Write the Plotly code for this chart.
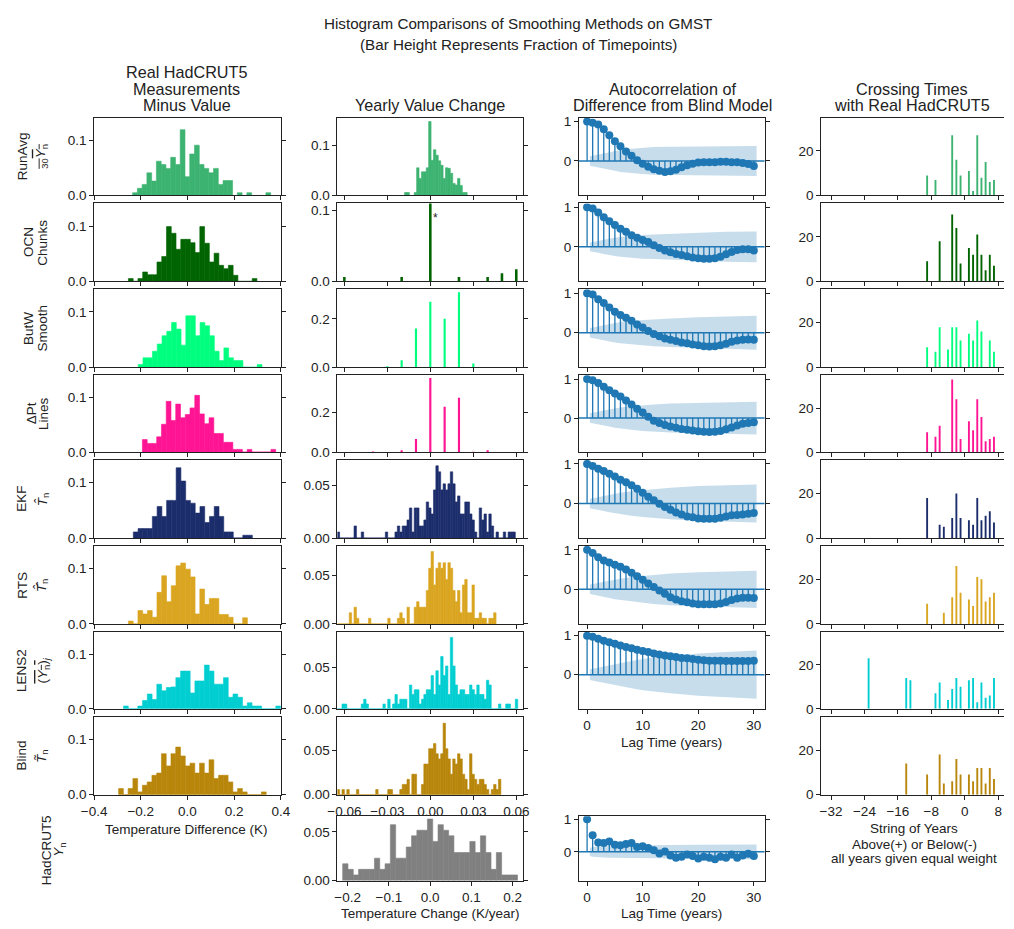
import plotly.graph_objects as go

W, H = 1014, 929
FONT = "Liberation Sans, Arial, sans-serif"
TXT = "#222222"
LINE = "#222222"
ACF_BLUE = "#1f77b4"

# ---------------- data ----------------
METHODS = ["RunAvg", "OCN", "ButW", "ΔPt", "EKF", "RTS", "LENS2", "Blind", "HadCRUT5"]
COLORS = ["#3cb371", "#006400", "#00ff7f", "#ff1493", "#1c2d6b", "#daa520", "#00ced1", "#b8860b", "#808080"]
ROW_SYMBOLS = [
    "<span style='text-decoration:overline'><sub>30</sub><i>Y</i><sub>n</sub></span>",
    "Chunks",
    "Smooth",
    "Lines",
    "<i>T̂</i><sub>n</sub>",
    "<i>T̂̂</i><sub>n</sub>",
    "<span style='text-decoration:overline'>(<i>Y</i><sub>n</sub>)</span><sub><i>j</i></sub>",
    "<i>T̃</i><sub>n</sub>",
    "<i>Y</i><sub>n</sub>",
]

# Column 1: Real HadCRUT5 minus value (fraction of timepoints per bin)
diff_bin_width = 0.0204
diff_starts = [-0.235, -0.253, -0.211, -0.193, -0.232, -0.253, -0.274, -0.295]
diff_runavg = [0.005, 0.013, 0.02, 0.041, 0.026, 0.062, 0.056, 0.049, 0.069, 0.056, 0.119, 0.034, 0.075, 0.091,
               0.056, 0.049, 0.041, 0.049, 0.02, 0.027, 0.027, 0, 0.005, 0, 0.005, 0, 0, 0, 0.005]
diff_ocn = [0.005, 0, 0.005, 0.017, 0.012, 0.012, 0.035, 0.045, 0.099, 0.087, 0.058, 0.076, 0.076, 0.07, 0.052,
            0.099, 0.069, 0.035, 0.051, 0.029, 0.023, 0.029, 0.011, 0, 0, 0, 0.005]
diff_butw = [0.005, 0.017, 0.017, 0.029, 0.042, 0.057, 0.065, 0.081, 0.069, 0.04, 0.093, 0.093, 0.057, 0.081, 0.075,
             0.057, 0.029, 0.012, 0.035, 0.017, 0.012, 0.012, 0, 0, 0, 0.005]
diff_dpt = [0.023, 0.016, 0.016, 0.028, 0.051, 0.093, 0.058, 0.088, 0.063, 0.069, 0.081, 0.104, 0.07, 0.052, 0.063,
            0.034, 0.034, 0.018, 0.018, 0.005, 0.005, 0, 0.005, 0, 0, 0, 0, 0.005]
diff_ekf = [0.011, 0.017, 0.017, 0.017, 0.039, 0.057, 0.039, 0.068, 0.068, 0.127, 0.103, 0.068, 0.063, 0.045, 0.057,
            0.028, 0.039, 0.057, 0.039, 0.011, 0.011, 0, 0, 0.005, 0.005]
diff_rts = [0.005, 0, 0.024, 0.018, 0.024, 0.012, 0.057, 0.087, 0.04, 0.069, 0.105, 0.11, 0.099, 0.085, 0.018,
            0.063, 0.035, 0.046, 0.046, 0.017, 0.017, 0.012, 0, 0, 0.011]
diff_lens2 = [0.005, 0, 0, 0.005, 0.015, 0.027, 0.017, 0.045, 0.033, 0.039, 0.04, 0.057, 0.069, 0.069, 0.029, 0.051,
              0.051, 0.08, 0.069, 0.045, 0.045, 0.057, 0.021, 0.027, 0.021, 0.005, 0.011, 0.005, 0.005, 0, 0, 0, 0.005]
diff_blind = [0.011, 0, 0.011, 0.029, 0.005, 0.017, 0.023, 0.035, 0.039, 0.074, 0.052, 0.074, 0.086, 0.07, 0.052,
              0.057, 0.039, 0.057, 0.039, 0.063, 0.029, 0.035, 0.035, 0.023, 0.005, 0.011, 0.005, 0, 0, 0, 0.005]
DIFF_FRACS = [diff_runavg, diff_ocn, diff_butw, diff_dpt, diff_ekf, diff_rts, diff_lens2, diff_blind]

# Column 2: yearly value change
FRACTION_PER_YEAR = 1 / 174          # one timepoint out of 174 years
chg_bin_width = 0.00168
chg_grid_start = -0.065
chg_runavg_start = -0.01796
chg_runavg = [0.006, 0.006, 0, 0, 0.006, 0.055, 0.034, 0.047, 0.047, 0.055, 0.147, 0.07, 0.091, 0.08, 0.069, 0.06,
              0.034, 0.055, 0.054, 0.044, 0.024, 0.021, 0.034, 0.02, 0.006, 0.006]
chg_ocn_x = [-0.06, -0.02, 0.0, 0.02, 0.04, 0.05, 0.06]
chg_ocn = [0.006, 0.006, 0.94, 0.006, 0.006, 0.0115, 0.017]
chg_butw_x = [-0.03, -0.02, -0.01, 0.0, 0.01, 0.02, 0.03]
chg_butw = [0.004, 0.029, 0.16, 0.27, 0.2, 0.31, 0.015]
chg_dpt_x = [-0.04, -0.02, -0.01, 0.0, 0.01, 0.02, 0.03, 0.04]
chg_dpt = [0.003, 0.01, 0.067, 0.376, 0.23, 0.276, 0.002, 0.01]
chg_ekf_counts = [1, 0, 0, 0, 0, 0, 0, 2, 0, 0, 1, 0, 0, 0, 0, 0, 0, 0, 0, 0, 1, 0, 0, 0, 1, 2, 1, 2, 2, 3,
                  5, 1, 5, 5, 2, 2, 3, 6, 5, 4, 8, 12, 11, 8, 9, 8, 9, 11, 9, 6, 7, 4, 4, 6, 6, 4, 3, 1, 0, 5,
                  3, 4, 1, 4, 2, 0, 1, 0, 0, 1, 0, 1, 1, 1]
chg_rts_counts = [0, 0, 0, 0, 0, 2, 0, 3, 1, 0, 0, 0, 0, 1, 0, 0, 0, 0, 0, 0, 0, 1, 0, 0, 0, 1, 2, 1, 0, 3,
                  0, 0, 3, 4, 3, 3, 3, 6, 10, 13, 7, 10, 11, 10, 11, 8, 11, 10, 6, 4, 6, 2, 7, 8, 2, 2, 7, 1, 1, 2,
                  1, 1, 0, 1, 1, 2]
chg_lens2_counts = [0, 0, 1, 1, 0, 0, 0, 0, 0, 0, 1, 2, 1, 0, 0, 0, 0, 0, 0, 1, 0, 2, 0, 1, 3, 1, 2, 2, 2, 0,
                    5, 3, 4, 4, 1, 2, 3, 4, 4, 7, 3, 8, 5, 11, 7, 9, 3, 15, 9, 5, 3, 4, 4, 3, 3, 5, 4, 3, 5, 3,
                    3, 2, 6, 5, 0, 0, 0, 1, 0, 0, 1, 1, 0, 0, 2]
chg_blind_counts = [1, 0, 1, 0, 1, 0, 0, 0, 1, 0, 0, 0, 0, 0, 0, 0, 1, 0, 0, 0, 0, 1, 1, 0, 0, 0, 1, 2, 2, 3,
                    0, 4, 4, 0, 0, 2, 6, 6, 9, 9, 10, 8, 7, 8, 14, 9, 7, 4, 7, 6, 8, 7, 4, 3, 1, 8, 4, 3, 2, 3,
                    3, 2, 1, 0, 1, 2, 1, 3]
chg_had_start = -0.2119
chg_had_width = 0.01284
chg_had_counts = [3, 2, 1, 2, 2, 2, 4, 2, 3, 10, 4, 4, 6, 8, 9, 9, 11, 7, 10, 9, 8, 5, 5, 5, 7, 5, 8, 5, 2, 5, 1, 1, 1]

# Column 3: autocorrelation, lags 0..30
LAGS = list(range(31))
acf_runavg = [1.0, 0.97, 0.92, 0.80, 0.65, 0.50, 0.37, 0.24, 0.13, 0.02, -0.07, -0.15, -0.21, -0.25, -0.28, -0.26,
              -0.22, -0.16, -0.11, -0.07, -0.04, -0.03, -0.03, -0.03, -0.02, -0.02, -0.03, -0.03, -0.05, -0.08, -0.13]
acf_ocn = [1.0, 0.97, 0.87, 0.75, 0.65, 0.55, 0.46, 0.38, 0.29, 0.23, 0.17, 0.12, 0.04, -0.03, -0.09, -0.14, -0.18,
           -0.21, -0.24, -0.27, -0.29, -0.30, -0.30, -0.29, -0.25, -0.19, -0.13, -0.08, -0.06, -0.06, -0.09]
acf_butw = [1.0, 0.97, 0.85, 0.75, 0.64, 0.53, 0.45, 0.38, 0.30, 0.21, 0.13, 0.04, -0.03, -0.09, -0.15, -0.18, -0.21,
            -0.25, -0.27, -0.30, -0.32, -0.34, -0.35, -0.34, -0.32, -0.28, -0.23, -0.20, -0.18, -0.17, -0.18]
acf_dpt = [1.0, 0.97, 0.90, 0.80, 0.71, 0.63, 0.55, 0.45, 0.35, 0.24, 0.14, 0.03, -0.07, -0.13, -0.18, -0.22, -0.25,
           -0.28, -0.30, -0.32, -0.34, -0.35, -0.36, -0.35, -0.33, -0.29, -0.24, -0.19, -0.15, -0.13, -0.11]
acf_ekf = [1.0, 0.95, 0.88, 0.82, 0.75, 0.68, 0.60, 0.54, 0.46, 0.37, 0.27, 0.17, 0.08, -0.01, -0.09, -0.16, -0.23,
           -0.28, -0.33, -0.35, -0.38, -0.39, -0.39, -0.39, -0.36, -0.33, -0.30, -0.29, -0.28, -0.26, -0.24]
acf_rts = [1.0, 0.92, 0.81, 0.73, 0.68, 0.62, 0.57, 0.50, 0.42, 0.33, 0.24, 0.15, 0.06, -0.03, -0.11, -0.20, -0.26,
           -0.30, -0.33, -0.36, -0.38, -0.38, -0.38, -0.38, -0.36, -0.32, -0.27, -0.23, -0.21, -0.21, -0.22]
acf_lens2 = [1.0, 0.97, 0.92, 0.87, 0.83, 0.79, 0.75, 0.71, 0.68, 0.64, 0.61, 0.58, 0.54, 0.52, 0.49, 0.47, 0.45,
             0.43, 0.42, 0.40, 0.38, 0.37, 0.36, 0.36, 0.36, 0.35, 0.35, 0.35, 0.35, 0.35, 0.36]
acf_had = [1.0, 0.51, 0.29, 0.27, 0.32, 0.22, 0.20, 0.24, 0.27, 0.15, 0.17, 0.12, 0.05, -0.05, 0.01, -0.11, -0.18,
           -0.15, -0.08, -0.13, -0.20, -0.15, -0.18, -0.23, -0.15, -0.18, -0.08, -0.18, -0.11, -0.06, -0.13]
BAND_LAGS = [0.5, 1, 2, 3, 4, 5, 6, 8, 10, 12, 15, 20, 25, 30.5]
band_runavg = [0.12, 0.13, 0.16, 0.19, 0.22, 0.25, 0.28, 0.31, 0.33, 0.35, 0.36, 0.37, 0.37, 0.38]
band_ocn = [0.11, 0.12, 0.15, 0.18, 0.21, 0.23, 0.25, 0.28, 0.30, 0.31, 0.33, 0.36, 0.38, 0.39]
band_butw = [0.12, 0.13, 0.16, 0.19, 0.22, 0.25, 0.27, 0.30, 0.32, 0.34, 0.36, 0.39, 0.41, 0.43]
band_dpt = [0.12, 0.13, 0.16, 0.19, 0.22, 0.25, 0.27, 0.30, 0.33, 0.35, 0.37, 0.39, 0.41, 0.42]
band_ekf = [0.12, 0.13, 0.16, 0.19, 0.22, 0.25, 0.27, 0.31, 0.34, 0.37, 0.40, 0.44, 0.46, 0.48]
band_rts = [0.12, 0.13, 0.16, 0.19, 0.22, 0.25, 0.27, 0.31, 0.34, 0.37, 0.40, 0.43, 0.45, 0.47]
band_lens2 = [0.14, 0.15, 0.18, 0.21, 0.24, 0.27, 0.30, 0.35, 0.40, 0.44, 0.48, 0.54, 0.58, 0.62]
band_had = [0.13, 0.15, 0.17, 0.17, 0.18, 0.18, 0.19, 0.20, 0.20, 0.21, 0.21, 0.22, 0.22, 0.23]

# Column 4: crossing times (string length of years above(+)/below(-))
cross_runavg_x = [-9, -7, -3, -2, -1, 1, 2, 3, 4, 5, 6, 7]
cross_runavg = [9, 7, 27, 16, 9, 11, 2, 27, 8, 15, 6, 7]
cross_ocn_x = [-9, -6, -3, -2, -1, 1, 2, 3, 4, 5, 6, 7]
cross_ocn = [9, 18, 30, 24, 8, 15, 12, 21, 12, 5, 12, 7]
cross_butw_x = [-9, -7, -6, -4, -3, -2, -1, 1, 2, 3, 4, 6, 7]
cross_butw = [9, 7, 18, 8, 18, 18, 12, 15, 12, 21, 16, 12, 7]
cross_dpt_x = [-9, -7, -6, -3, -2, -1, 1, 2, 3, 4, 5, 6, 7]
cross_dpt = [9, 7, 12, 33, 24, 6, 14, 10, 24, 16, 5, 6, 7]
cross_ekf_x = [-9, -6, -5, -3, -2, -1, 1, 2, 3, 4, 5, 6, 7]
cross_ekf = [18, 6, 5, 9, 20, 9, 8, 6, 18, 8, 10, 12, 7]
cross_rts_x = [-9, -5, -3, -2, -1, 1, 2, 3, 4, 5, 6, 7]
cross_rts = [9, 5, 12, 26, 14, 11, 8, 21, 20, 10, 12, 14]
cross_lens2_x = [-23, -14, -13, -7, -6, -4, -3, -2, -1, 1, 2, 3, 4, 5, 6, 7]
cross_lens2 = [23, 14, 13, 7, 12, 4, 9, 14, 10, 13, 14, 3, 12, 5, 6, 14]
cross_blind_x = [-14, -9, -6, -5, -3, -2, -1, 1, 2, 3, 4, 5, 6, 7]
cross_blind = [14, 9, 18, 5, 6, 16, 9, 9, 6, 12, 12, 5, 12, 7]

# ---------------- layout helpers ----------------
COL_PX = [(83, 274), (332, 522), (579, 769), (827, 1014)]
ROW_PX = [(115, 194), (202, 281), (289, 368), (376, 454), (462, 541), (549, 628), (636, 714), (722, 801), (823, 888)]


def fx(px):
    return px / W


def fy(py):
    return 1 - py / H


AX = dict(showline=True, linecolor=LINE, linewidth=1, ticks="outside", ticklen=4, tickwidth=1,
          tickcolor=LINE, showgrid=False, zeroline=False, fixedrange=True,
          tickfont=dict(size=13.5, color=TXT, family=FONT))

layout = dict(width=W, height=H, margin=dict(l=0, r=0, t=0, b=0), paper_bgcolor="white",
              plot_bgcolor="white", showlegend=False, barmode="overlay",
              font=dict(family=FONT, size=13.5, color=TXT))
traces = []
shapes = []
annotations = []
counter = [0]


def add_axes(row, col, xrange, xtickvals, xticktext, showx, yrange, ytickvals, yticktext, ymirror="ticks"):
    counter[0] += 1
    n = counter[0]
    sfx = "" if n == 1 else str(n)
    c0, c1 = COL_PX[col]
    r0, r1 = ROW_PX[row]
    xa = dict(AX, domain=[fx(c0), fx(c1)], range=xrange, anchor="y" + sfx, tickvals=xtickvals,
              ticktext=xticktext, showticklabels=showx, mirror=True)
    ya = dict(AX, domain=[fy(r1), fy(r0)], range=yrange, anchor="x" + sfx, tickvals=ytickvals,
              ticktext=yticktext, mirror=ymirror)
    layout["xaxis" + sfx] = xa
    layout["yaxis" + sfx] = ya
    return "x" + sfx, "y" + sfx


def bars_regular(xr, yr, start, width, heights, color):
    centers = [start + width * (i + 0.5) for i in range(len(heights))]
    traces.append(go.Bar(x=centers, y=heights, width=width,
                         marker=dict(color=color, line=dict(width=0.6, color=color)),
                         xaxis=xr, yaxis=yr, hoverinfo="skip"))


def bars_at(xr, yr, xs, heights, width, color):
    traces.append(go.Bar(x=xs, y=heights, width=width, marker=dict(color=color, line=dict(width=0)),
                         xaxis=xr, yaxis=yr, hoverinfo="skip"))


def acf_panel(xr, yr, acf, band):
    bx = BAND_LAGS + BAND_LAGS[::-1]
    by = band + [-b for b in band[::-1]]
    traces.append(go.Scatter(x=bx, y=by, fill="toself", fillcolor="rgba(31,119,180,0.25)",
                             line=dict(width=0), mode="lines", xaxis=xr, yaxis=yr, hoverinfo="skip"))
    sx, sy = [], []
    for lag, v in zip(LAGS, acf):
        sx += [lag, lag, None]
        sy += [0, v, None]
    traces.append(go.Scatter(x=sx, y=sy, mode="lines", line=dict(color=ACF_BLUE, width=1.3),
                             xaxis=xr, yaxis=yr, hoverinfo="skip"))
    shapes.append(dict(type="line", xref=xr + " domain", yref=yr, x0=0, x1=1, y0=0, y1=0,
                       line=dict(color=ACF_BLUE, width=1.5)))
    traces.append(go.Scatter(x=LAGS, y=acf, mode="markers", marker=dict(color=ACF_BLUE, size=8),
                             xaxis=xr, yaxis=yr, hoverinfo="skip"))


MINUS = "\u2212"
# ---- Column 1
c1_ticks = [-0.4, -0.2, 0.0, 0.2, 0.4]
c1_text = [MINUS + "0.4", MINUS + "0.2", "0.0", "0.2", "0.4"]
for r in range(8):
    xr, yr = add_axes(r, 0, [-0.4, 0.4], c1_ticks, c1_text, r == 7, [0, 0.141], [0, 0.1], ["0.0", "0.1"])
    bars_regular(xr, yr, diff_starts[r], diff_bin_width, DIFF_FRACS[r], COLORS[r])

# ---- Column 2
c2_ticks = [-0.06, -0.03, 0.0, 0.03, 0.06]
c2_text = [MINUS + "0.06", MINUS + "0.03", "0.00", "0.03", "0.06"]
c2_yr = [0.155, 0.11, 0.322, 0.39, 0.0745, 0.0806, 0.093, 0.0878]
c2_yt = [([0, 0.1], ["0.0", "0.1"]), ([0, 0.1], ["0.0", "0.1"]), ([0, 0.2], ["0.0", "0.2"]),
         ([0, 0.2], ["0.0", "0.2"])] + [([0, 0.05], ["0.00", "0.05"])] * 4
count_rows = {4: chg_ekf_counts, 5: chg_rts_counts, 6: chg_lens2_counts, 7: chg_blind_counts}
for r in range(8):
    xr, yr = add_axes(r, 1, [-0.0648, 0.0648], c2_ticks, c2_text, r == 7, [0, c2_yr[r]], c2_yt[r][0], c2_yt[r][1])
    if r == 0:
        bars_regular(xr, yr, chg_runavg_start, chg_bin_width, chg_runavg, COLORS[r])
    elif r == 1:
        bars_at(xr, yr, chg_ocn_x, chg_ocn, 0.0018, COLORS[r])
        annotations.append(dict(x=0.0036, y=0.09, xref=xr, yref=yr, text="*", showarrow=False,
                                font=dict(size=12, color=TXT)))
    elif r == 2:
        bars_at(xr, yr, chg_butw_x, chg_butw, 0.0015, COLORS[r])
    elif r == 3:
        bars_at(xr, yr, chg_dpt_x, chg_dpt, 0.0015, COLORS[r])
    else:
        fr = [c * FRACTION_PER_YEAR for c in count_rows[r]]
        bars_regular(xr, yr, chg_grid_start, chg_bin_width, fr, COLORS[r])
xr, yr = add_axes(8, 1, [-0.2245, 0.2255], [-0.2, -0.1, 0, 0.1, 0.2],
                  [MINUS + "0.2", MINUS + "0.1", "0.0", "0.1", "0.2"], True, [0, 0.066], [0, 0.05], ["0.00", "0.05"])
bars_regular(xr, yr, chg_had_start, chg_had_width, [c * FRACTION_PER_YEAR for c in chg_had_counts], COLORS[8])

# ---- Column 3
acfs = [acf_runavg, acf_ocn, acf_butw, acf_dpt, acf_ekf, acf_rts, acf_lens2]
bands = [band_runavg, band_ocn, band_butw, band_dpt, band_ekf, band_rts, band_lens2]
for r in range(7):
    xr, yr = add_axes(r, 2, [-1.48, 31.93], [0, 10, 20, 30], ["0", "10", "20", "30"], r == 6,
                      [-0.875, 1.1], [0, 1], ["0", "1"])
    acf_panel(xr, yr, acfs[r], bands[r])
xr, yr = add_axes(8, 2, [-1.48, 31.93], [0, 10, 20, 30], ["0", "10", "20", "30"], True,
                  [-0.88, 1.09], [0, 1], ["0", "1"])
acf_panel(xr, yr, acf_had, band_had)

# ---- Column 4
cross_x = [cross_runavg_x, cross_ocn_x, cross_butw_x, cross_dpt_x, cross_ekf_x, cross_rts_x, cross_lens2_x, cross_blind_x]
cross_y = [cross_runavg, cross_ocn, cross_butw, cross_dpt, cross_ekf, cross_rts, cross_lens2, cross_blind]
c4_ticks = [-32, -24, -16, -8, 0, 8]
c4_text = [MINUS + "32", MINUS + "24", MINUS + "16", MINUS + "8", "0", "8"]
for r in range(8):
    xr, yr = add_axes(r, 3, [-34.34, 9.40], c4_ticks, c4_text, r == 7, [0, 35], [0, 20], ["0", "20"], ymirror=False)
    bars_at(xr, yr, cross_x[r], cross_y[r], 0.45, COLORS[r])

# ---------------- text ----------------


def label(text, px, py, size=13.5, angle=0):
    annotations.append(dict(x=fx(px), y=fy(py), xref="paper", yref="paper", text=text, showarrow=False,
                            xanchor="center", yanchor="middle", textangle=angle,
                            font=dict(size=size, color=TXT, family=FONT)))


label("Histogram Comparisons of Smoothing Methods on GMST", 517, 20, 15.2)
label("(Bar Height Represents Fraction of Timepoints)", 517, 41, 15.2)
label("Real HadCRUT5", 178, 69, 16.2)
label("Measurements", 178, 86, 16.2)
label("Minus Value", 178, 102, 16.2)
label("Yearly Value Change", 427, 102, 16.2)
label("Autocorrelation of", 675, 86, 16.2)
label("Difference from Blind Model", 675, 102, 16.2)
label("Crossing Times", 920, 86, 16.2)
label("with Real HadCRUT5", 920, 102, 16.2)

label("Temperature Difference (K)", 178, 836)
label("Temperature Change (K/year)", 427, 921)
label("Lag Time (years)", 674, 748)
label("Lag Time (years)", 674, 921)
label("String of Years", 922, 835)
label("Above(+) or Below(-)", 922, 851)
label("all years given equal weight", 922, 866)

# row labels: method name and its symbol, one rotated line each
line1_x = [10, 16, 16, 19, 8, 10, 8, 9, 35]
line2_x = [29, 30, 30, 31, 30, 30, 31, 30, 48]
for r in range(9):
    r0, r1 = ROW_PX[r]
    cy = (r0 + r1) / 2 if r < 8 else 857
    label(METHODS[r], line1_x[r], cy, 13.5, -90)
    label(ROW_SYMBOLS[r], line2_x[r], cy, 13.5, -90)

layout["shapes"] = shapes
layout["annotations"] = annotations
fig = go.Figure(data=traces, layout=layout)
fig.write_html("out.html", config={"displayModeBar": False, "staticPlot": True},
               post_script="document.body.style.margin='0px';document.body.style.overflow='hidden';")
